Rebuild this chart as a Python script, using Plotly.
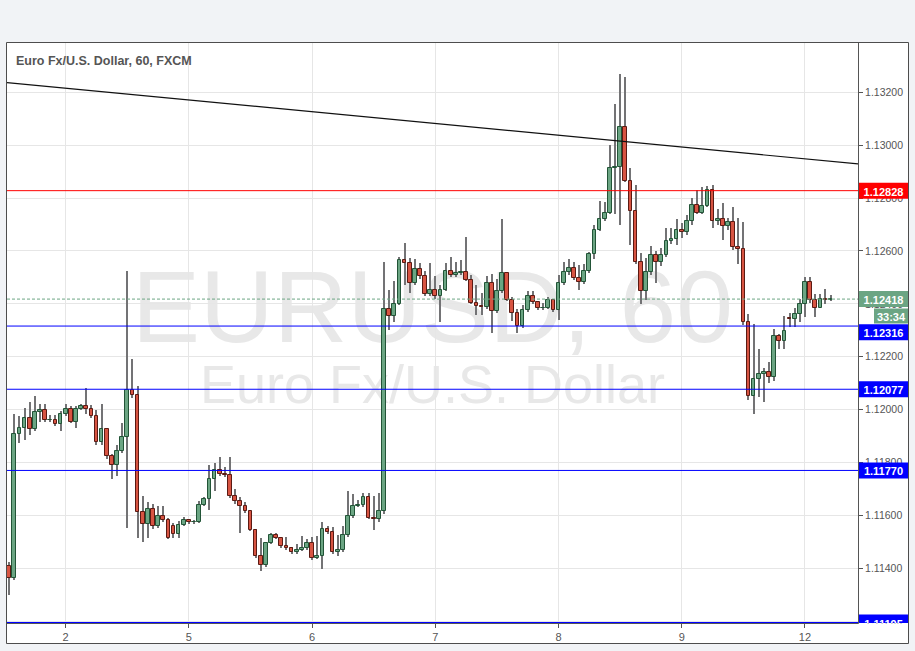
import plotly.graph_objects as go
import pandas as pd

# ---------------- data (EUR/USD, 60 min, FXCM) ----------------
open_ = [1.11408, 1.11362, 1.11907, 1.11932, 1.11970, 1.11925, 1.11991, 1.12000, 1.11960, 1.11962,
         1.11944, 1.11983, 1.12004, 1.11953, 1.12004, 1.12013, 1.12004, 1.11975, 1.11876, 1.11925,
         1.11824, 1.11792, 1.11843, 1.11897, 1.12076, 1.12057, 1.11611, 1.11569, 1.11626, 1.11560,
         1.11597, 1.11582, 1.11560, 1.11531, 1.11562, 1.11581, 1.11574, 1.11576, 1.11641, 1.11661,
         1.11739, 1.11773, 1.11758, 1.11753, 1.11673, 1.11654, 1.11635, 1.11616, 1.11544, 1.11446,
         1.11414, 1.11497, 1.11525, 1.11516, 1.11483, 1.11475, 1.11460, 1.11468, 1.11475, 1.11497,
         1.11439, 1.11447, 1.11547, 1.11539, 1.11460, 1.11468, 1.11525, 1.11597, 1.11635, 1.11638,
         1.11668, 1.11592, 1.11587, 1.11616, 1.12382, 1.12354, 1.12401, 1.12567, 1.12556, 1.12477,
         1.12533, 1.12504, 1.12439, 1.12454, 1.12431, 1.12454, 1.12524, 1.12508, 1.12517, 1.12522,
         1.12492, 1.12405, 1.12390, 1.12387, 1.12477, 1.12372, 1.12448, 1.12517, 1.12416, 1.12367,
         1.12318, 1.12376, 1.12431, 1.12406, 1.12383, 1.12386, 1.12416, 1.12378, 1.12477, 1.12519,
         1.12536, 1.12499, 1.12481, 1.12523, 1.12588, 1.12681, 1.12722, 1.12745, 1.12915, 1.12918,
         1.13067, 1.12865, 1.12750, 1.12558, 1.12448, 1.12519, 1.12586, 1.12558, 1.12584, 1.12637,
         1.12644, 1.12681, 1.12672, 1.12713, 1.12775, 1.12745, 1.12769, 1.12829, 1.12713, 1.12722,
         1.12694, 1.12711, 1.12615, 1.12608, 1.12332, 1.12052, 1.12114, 1.12133, 1.12143, 1.12124,
         1.12279, 1.12261, 1.12348, 1.12344, 1.12361, 1.12401, 1.12481, 1.12414, 1.12386, 1.12420,
         1.12413]
high = [1.11423, 1.11985, 1.11975, 1.12008, 1.12027, 1.12052, 1.12023, 1.12023, 1.11979, 1.11979,
        1.11995, 1.12023, 1.12015, 1.12015, 1.12020, 1.12080, 1.12019, 1.12000, 1.12020, 1.11930,
        1.11834, 1.11866, 1.11950, 1.12523, 1.12193, 1.12089, 1.11673, 1.11651, 1.11645, 1.11637,
        1.11637, 1.11590, 1.11571, 1.11579, 1.11594, 1.11587, 1.11582, 1.11656, 1.11670, 1.11789,
        1.11798, 1.11819, 1.11783, 1.11819, 1.11700, 1.11668, 1.11650, 1.11620, 1.11548, 1.11513,
        1.11500, 1.11535, 1.11535, 1.11520, 1.11520, 1.11480, 1.11490, 1.11521, 1.11510, 1.11520,
        1.11521, 1.11575, 1.11559, 1.11555, 1.11525, 1.11559, 1.11691, 1.11680, 1.11660, 1.11685,
        1.11685, 1.11674, 1.11683, 1.12558, 1.12451, 1.12485, 1.12577, 1.12630, 1.12575, 1.12570,
        1.12555, 1.12526, 1.12556, 1.12505, 1.12470, 1.12555, 1.12577, 1.12560, 1.12567, 1.12653,
        1.12510, 1.12470, 1.12440, 1.12505, 1.12514, 1.12495, 1.12720, 1.12520, 1.12425, 1.12380,
        1.12395, 1.12450, 1.12450, 1.12410, 1.12405, 1.12425, 1.12420, 1.12508, 1.12560, 1.12570,
        1.12558, 1.12546, 1.12551, 1.12596, 1.12697, 1.12788, 1.12785, 1.13000, 1.13157, 1.13268,
        1.13258, 1.12912, 1.12848, 1.12592, 1.12575, 1.12620, 1.12600, 1.12610, 1.12685, 1.12685,
        1.12719, 1.12705, 1.12735, 1.12800, 1.12830, 1.12840, 1.12845, 1.12850, 1.12760, 1.12781,
        1.12725, 1.12766, 1.12725, 1.12710, 1.12363, 1.12323, 1.12228, 1.12158, 1.12180, 1.12306,
        1.12285, 1.12353, 1.12366, 1.12385, 1.12420, 1.12502, 1.12502, 1.12439, 1.12439, 1.12458,
        1.12432]
low = [1.11298, 1.11355, 1.11872, 1.11884, 1.11903, 1.11920, 1.11953, 1.11955, 1.11953, 1.11937,
       1.11920, 1.11975, 1.11950, 1.11930, 1.12000, 1.11985, 1.11970, 1.11866, 1.11865, 1.11815,
       1.11739, 1.11750, 1.11835, 1.11553, 1.12045, 1.11513, 1.11500, 1.11513, 1.11547, 1.11552,
       1.11575, 1.11510, 1.11513, 1.11516, 1.11560, 1.11568, 1.11568, 1.11570, 1.11635, 1.11620,
       1.11693, 1.11750, 1.11745, 1.11665, 1.11645, 1.11534, 1.11610, 1.11540, 1.11440, 1.11390,
       1.11405, 1.11490, 1.11510, 1.11478, 1.11470, 1.11455, 1.11455, 1.11465, 1.11470, 1.11430,
       1.11435, 1.11399, 1.11530, 1.11455, 1.11447, 1.11460, 1.11520, 1.11592, 1.11630, 1.11632,
       1.11585, 1.11544, 1.11575, 1.11605, 1.12300, 1.12332, 1.12395, 1.12470, 1.12441, 1.12470,
       1.12495, 1.12430, 1.12430, 1.12420, 1.12332, 1.12450, 1.12500, 1.12500, 1.12510, 1.12485,
       1.12400, 1.12357, 1.12357, 1.12380, 1.12288, 1.12365, 1.12440, 1.12410, 1.12335, 1.12290,
       1.12310, 1.12370, 1.12400, 1.12375, 1.12378, 1.12380, 1.12370, 1.12340, 1.12470, 1.12510,
       1.12490, 1.12451, 1.12475, 1.12515, 1.12571, 1.12675, 1.12715, 1.12738, 1.12740, 1.12700,
       1.12861, 1.12622, 1.12550, 1.12401, 1.12413, 1.12510, 1.12480, 1.12545, 1.12578, 1.12625,
       1.12622, 1.12650, 1.12660, 1.12700, 1.12740, 1.12741, 1.12765, 1.12685, 1.12700, 1.12640,
       1.12680, 1.12605, 1.12550, 1.12320, 1.12036, 1.11985, 1.12048, 1.12029, 1.12100, 1.12108,
       1.12231, 1.12231, 1.12313, 1.12313, 1.12332, 1.12350, 1.12405, 1.12350, 1.12383, 1.12401,
       1.12410]
close = [1.11362, 1.11907, 1.11932, 1.11970, 1.11925, 1.11991, 1.12000, 1.11960, 1.11962, 1.11944,
         1.11983, 1.12004, 1.11953, 1.12004, 1.12013, 1.12004, 1.11975, 1.11876, 1.11925, 1.11824,
         1.11792, 1.11843, 1.11897, 1.12076, 1.12057, 1.11611, 1.11569, 1.11626, 1.11560, 1.11597,
         1.11582, 1.11516, 1.11531, 1.11562, 1.11581, 1.11574, 1.11576, 1.11641, 1.11661, 1.11739,
         1.11773, 1.11758, 1.11753, 1.11673, 1.11654, 1.11635, 1.11616, 1.11544, 1.11446, 1.11414,
         1.11497, 1.11525, 1.11516, 1.11483, 1.11475, 1.11460, 1.11468, 1.11475, 1.11497, 1.11439,
         1.11447, 1.11547, 1.11539, 1.11460, 1.11468, 1.11525, 1.11597, 1.11635, 1.11638, 1.11668,
         1.11592, 1.11587, 1.11616, 1.12382, 1.12354, 1.12401, 1.12567, 1.12556, 1.12477, 1.12533,
         1.12504, 1.12439, 1.12454, 1.12431, 1.12454, 1.12524, 1.12508, 1.12517, 1.12522, 1.12492,
         1.12405, 1.12390, 1.12387, 1.12477, 1.12372, 1.12448, 1.12517, 1.12416, 1.12367, 1.12318,
         1.12376, 1.12431, 1.12406, 1.12383, 1.12386, 1.12416, 1.12378, 1.12477, 1.12519, 1.12536,
         1.12499, 1.12481, 1.12523, 1.12588, 1.12681, 1.12722, 1.12745, 1.12915, 1.12918, 1.13067,
         1.12865, 1.12750, 1.12558, 1.12448, 1.12519, 1.12586, 1.12558, 1.12584, 1.12637, 1.12644,
         1.12681, 1.12672, 1.12713, 1.12775, 1.12745, 1.12769, 1.12829, 1.12713, 1.12722, 1.12694,
         1.12711, 1.12615, 1.12608, 1.12332, 1.12052, 1.12114, 1.12133, 1.12143, 1.12124, 1.12279,
         1.12261, 1.12299, 1.12344, 1.12361, 1.12401, 1.12481, 1.12414, 1.12386, 1.12420, 1.12413,
         1.12418]

first_bar_time = "2016-09-01 13:00"          # UTC, hourly bars
blue_levels = [1.12316, 1.12077, 1.11770, 1.11195]
red_level = 1.12828
trend_idx = [0, 160]                         # bar index of two points on the trend line
trend_price = [1.13236, 1.12939]
countdown = "33:34"
title_text = "Euro Fx/U.S. Dollar, 60, FXCM"
watermark_1 = "EURUSD, 60"
watermark_2 = "Euro Fx/U.S. Dollar"

# ---------------- derived ----------------
n = len(close)
times = []
t = pd.Timestamp(first_bar_time)
while len(times) < n:
    wd = t.weekday()
    closed = (wd == 4 and t.hour >= 21) or wd == 5 or (wd == 6 and t.hour < 21)
    if not closed:
        times.append(t)
    t += pd.Timedelta(hours=1)
idx = list(range(n))
tick_idx = [i for i, ts in enumerate(times) if ts.hour == 0]
tick_txt = [str(times[i].day) for i in tick_idx]

UP_FILL, UP_LINE = "#6ba583", "#225437"
DN_FILL, DN_LINE = "#d75442", "#5b1a13"
WICK = "#737375"
BLUE, RED, GREEN_TAG = "#0000ff", "#ff0000", "#6ba583"
AXIS_C = "#555555"
FONT = "Liberation Sans"

up = [c >= o for o, c in zip(open_, close)]
fills = [UP_FILL if u else DN_FILL for u in up]
edges = [UP_LINE if u else DN_LINE for u in up]
body_base = [min(o, c) for o, c in zip(open_, close)]
body_h = [max(abs(c - o), 1e-6) for o, c in zip(open_, close)]

x_range = [-0.43, n - 1 + 5.33]
y_range = [1.111931, 1.133864]

fig = go.Figure()
fig.add_trace(go.Bar(x=idx, y=[h - l for h, l in zip(high, low)], base=low, width=0.2,
                     marker=dict(color=WICK, line=dict(width=0)), hoverinfo="skip"))
fig.add_trace(go.Bar(x=idx, y=body_h, base=body_base, width=0.72,
                     marker=dict(color=fills, line=dict(color=edges, width=1)),
                     customdata=list(zip(open_, high, low, close)),
                     hovertemplate="O %{customdata[0]:.5f}<br>H %{customdata[1]:.5f}<br>"
                                   "L %{customdata[2]:.5f}<br>C %{customdata[3]:.5f}<extra></extra>"))

# plot geometry (px) for paper-coordinate shapes
L, R, T, B = 7, 57, 43, 28
W, H = 915, 651
pw, ph = W - L - R, H - T - B
def px_x(px):
    return (px - L) / pw
def px_y(py):
    return (H - B - py) / ph
du = (y_range[1] - y_range[0]) / ph        # price units per pixel

shapes = []
# white chart frame
shapes.append(dict(type="rect", xref="paper", yref="paper", x0=px_x(6.5), x1=px_x(908.5),
                   y0=px_y(643.5), y1=px_y(42.5), fillcolor="white",
                   line=dict(color="#4d4d4d", width=1), layer="below"))
# watermarks
shapes.append(dict(type="rect", xref="paper", yref="paper", x0=0, x1=1,
                   y0=px_y(326), y1=px_y(268), line=dict(width=0), fillcolor="rgba(0,0,0,0)",
                   layer="below",
                   label=dict(text=watermark_1, textposition="middle center",
                              font=dict(family=FONT, size=102, color="#e8e8e8"))))
shapes.append(dict(type="rect", xref="paper", yref="paper", x0=0, x1=1,
                   y0=px_y(397), y1=px_y(361), line=dict(width=0), fillcolor="rgba(0,0,0,0)",
                   layer="below",
                   label=dict(text=watermark_2, textposition="middle center",
                              font=dict(family=FONT, size=54, color="#e8e8e8"))))
# trend line extended over the full x range
slope = (trend_price[1] - trend_price[0]) / (trend_idx[1] - trend_idx[0])
shapes.append(dict(type="line", xref="x", yref="y", x0=x_range[0], x1=x_range[1],
                   y0=trend_price[0] + slope * (x_range[0] - trend_idx[0]),
                   y1=trend_price[0] + slope * (x_range[1] - trend_idx[0]),
                   line=dict(color="#111111", width=1.2), layer="above"))
# horizontal levels
shapes.append(dict(type="line", xref="paper", yref="y", x0=0, x1=1, y0=red_level, y1=red_level,
                   line=dict(color=RED, width=1), layer="above"))
for lv in blue_levels:
    shapes.append(dict(type="line", xref="paper", yref="y", x0=0, x1=1, y0=lv, y1=lv,
                       line=dict(color=BLUE, width=1), layer="above"))
shapes.append(dict(type="line", xref="paper", yref="y", x0=0, x1=1, y0=close[-1], y1=close[-1],
                   line=dict(color=GREEN_TAG, width=1, dash="3px,2px"), layer="above"))

# price tags on the axis (offsets in pixels, converted to price units)
TX0, TX1 = px_x(859), px_x(908)
def tag(level, text, color, lo=-8, hi=8, x0=TX0):
    return dict(type="rect", xref="paper", yref="y", x0=x0, x1=TX1,
                y0=level + lo * du, y1=level + hi * du, fillcolor=color, line=dict(width=0),
                layer="above",
                label=dict(text="<b>%s</b>" % text, textposition="middle center", padding=0,
                           font=dict(family=FONT, size=11, color="white")))

shapes.append(tag(red_level, "%.5f" % red_level, RED))
shapes.append(tag(close[-1], "%.5f" % close[-1], GREEN_TAG))
shapes.append(tag(close[-1], countdown, GREEN_TAG, lo=-24.5, hi=-9.5, x0=px_x(874)))
for lv in blue_levels:
    if abs(lv - close[-1]) < 0.0012:
        shapes.append(tag(lv, "%.5f" % lv, BLUE, lo=-14.2, hi=1.8))
    else:
        shapes.append(tag(lv, "%.5f" % lv, BLUE))
# keep the axis corner clean (tags are cut at the plot bottom)
shapes.append(dict(type="rect", xref="paper", yref="paper", x0=px_x(858.5), x1=px_x(907.5),
                   y0=px_y(642.5), y1=px_y(623.5), fillcolor="white", line=dict(width=0),
                   layer="above"))

fig.update_layout(
    width=W, height=H, margin=dict(l=L, r=R, t=T, b=B, pad=0),
    paper_bgcolor="#f1f3f6", plot_bgcolor="white", showlegend=False,
    barmode="overlay", bargap=0, font=dict(family=FONT, color=AXIS_C),
    shapes=shapes,
    xaxis=dict(range=x_range, tickvals=tick_idx, ticktext=tick_txt, showgrid=True,
               gridcolor="#e6e6e6", gridwidth=1, zeroline=False, showline=True,
               linecolor=AXIS_C, linewidth=1, ticks="outside", ticklen=4, tickcolor=AXIS_C,
               tickfont=dict(family=FONT, size=11, color=AXIS_C), fixedrange=True),
    yaxis=dict(side="right", range=y_range, tick0=1.112, dtick=0.002, tickformat=".5f",
               showgrid=True, gridcolor="#e6e6e6", gridwidth=1, zeroline=False,
               showline=True, linecolor=AXIS_C, linewidth=1, ticks="outside", ticklen=4,
               tickcolor=AXIS_C, tickfont=dict(family=FONT, size=10.5, color=AXIS_C),
               fixedrange=True),
    annotations=[dict(text="<b>%s</b>" % title_text, xref="paper", yref="paper",
                      x=px_x(13.5), y=px_y(61), xanchor="left", yanchor="middle",
                      showarrow=False, font=dict(family=FONT, size=12.5, color="#555555"))],
)

fig.write_html("out.html", config={"displayModeBar": False})
with open("out.html", "r", encoding="utf-8") as f:
    page = f.read()
page = page.replace("<head>", "<head><style>html,body{margin:0;padding:0;overflow:hidden;}</style>", 1)
with open("out.html", "w", encoding="utf-8") as f:
    f.write(page)
